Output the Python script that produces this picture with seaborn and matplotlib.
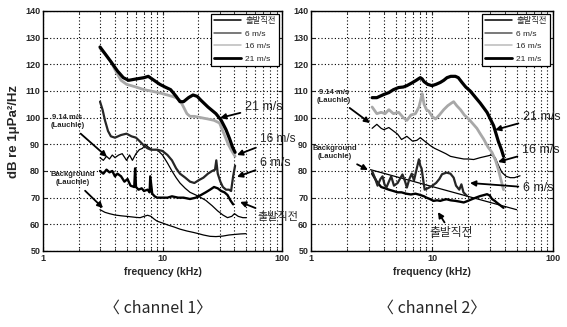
import matplotlib
matplotlib.use("Agg")
import matplotlib.pyplot as plt
from matplotlib.ticker import NullFormatter, FixedLocator
from matplotlib.lines import Line2D
import seaborn as sns
import pandas as pd

# ---------------- data: channel 1 ----------------
c1_f21 = [3.0, 3.3, 3.7, 4.2, 4.7, 5.2, 6.0, 7.0, 7.6, 8.5, 9.5, 10.5, 11.7, 13.0, 14.0, 15.0,
          16.5, 18.0, 19.5, 21.0, 24.0, 28.0, 31.0, 34.0, 36.5, 38.5, 40.5]
c1_db21 = [126.5, 124, 121, 117.5, 115, 114, 114.5, 115, 115.5, 114, 112.5, 111.5, 110.5, 108, 106, 106,
           107.5, 108.5, 108, 106.5, 104, 101.5, 99, 95.5, 92, 89, 87]

c1_f16 = [3.0, 3.3, 3.7, 4.0, 4.5, 5.0, 6.0, 7.0, 8.0, 9.0, 10.0, 11.0, 12.0, 13.0, 14.0, 15.0,
          16.0, 17.0, 18.5, 21.0, 24.0, 27.0, 30.0, 33.0, 35.5, 38.0, 40.5]
c1_db16 = [126, 124, 121, 118, 114, 112.5, 111.5, 110.5, 110, 109.5, 109, 108.5, 108, 107.5, 106.5, 104,
           101.5, 100.5, 100.5, 100, 99.5, 99, 98, 93.5, 90, 87.5, 85.5]

c1_f6 = [3.0, 3.15, 3.3, 3.5, 3.7, 4.0, 4.5, 5.0, 5.5, 6.0, 6.5, 7.0, 7.5, 8.0, 9.0, 10.0, 11.0,
         12.0, 13.0, 14.0, 15.5, 17.0, 18.5, 20.0, 22.0, 24.0, 26.0, 27.5, 28.2, 29.0, 30.5, 32.0,
         34.0, 36.0, 37.5, 39.0, 40.5]
c1_db6 = [106, 103, 99, 95, 93, 92.5, 93.5, 94, 93, 92.5, 91, 89.5, 88.5, 88, 88, 87.5, 86,
          84, 81, 79, 77.5, 76, 75.5, 76.5, 77.5, 79, 80, 80.5, 84, 79, 76, 74,
          73, 73, 72.5, 78, 82]

c1_f0 = [3.0, 3.2, 3.4, 3.6, 3.8, 4.0, 4.2, 4.5, 4.8, 5.1, 5.4, 5.8, 5.9, 6.0, 6.3, 6.7, 7.0, 7.5,
         7.8, 7.9, 8.2, 8.6, 9.0, 10.0, 11.0, 12.0, 13.5, 15.0, 17.0, 19.0, 21.0, 23.0, 25.0, 27.0,
         29.0, 31.0, 33.0, 35.0, 37.0, 39.0]
c1_db0 = [80, 79, 80.5, 79.5, 80, 78, 79, 78, 76, 77, 74.5, 74, 81, 74, 73, 73.5, 72.5, 73,
          72, 78, 71.5, 70.5, 70, 70, 70, 70.5, 70, 70, 69.5, 70, 71, 72, 73, 74,
          73.5, 72.5, 72, 71, 69, 67.5]

c1_f_lau = [3.0, 3.2, 3.4, 3.6, 3.8, 4.0, 4.3, 4.6, 5.0, 5.3, 5.6, 6.0, 6.4, 6.8, 7.2, 7.6, 8.2,
            9.0, 10.0, 11.0, 12.0, 13.0, 14.0, 15.5, 17.0, 19.0, 21.0, 23.0, 26.0, 29.0, 32.0,
            35.0, 38.0, 40.0, 43.0, 47.0, 50.0]
c1_db_lau = [85, 84, 85.5, 84.5, 86, 85, 86, 86.5, 84, 86, 84, 86.5, 88, 88.5, 90, 89, 88,
             88, 86, 83, 80, 77.5, 75.5, 73.5, 72, 71, 70, 69, 67, 65, 63.5,
             62.5, 63, 64, 63, 62.5, 62.5]

c1_f_bg = [3.0, 3.3, 3.6, 4.0, 4.5, 5.0, 5.5, 6.0, 6.5, 7.0, 7.5, 8.0, 8.5, 9.0, 10.0, 11.0, 12.5,
           14.0, 16.0, 18.0, 20.0, 22.0, 25.0, 28.0, 32.0, 36.0, 40.0, 45.0, 50.0]
c1_db_bg = [65.5, 64.5, 64, 63.5, 63.2, 63, 62.8, 62.6, 62.5, 63, 63.4, 63, 62, 61.2, 60.5, 59.8, 59,
            58.2, 57.5, 57, 56.5, 56, 55.5, 55.4, 55.6, 56, 56.2, 56.4, 56.5]

# ---------------- data: channel 2 ----------------
c2_f21 = [3.2, 3.5, 4.0, 4.4, 4.8, 5.3, 5.8, 6.2, 6.8, 7.4, 8.0, 8.3, 8.6, 9.2, 10.0, 10.8, 11.7,
          12.5, 13.3, 14.3, 15.6, 16.5, 17.7, 19.0, 20.7, 22.5, 25.0, 28.5, 32.3, 35.4, 37.5, 39.0]
c2_db21 = [107.5, 107.5, 108.7, 109.4, 110.5, 111.3, 111.5, 112, 113, 114, 115, 114.5, 113.5, 112.5, 112, 112.5, 113.2,
           114, 115, 115.5, 115.5, 115, 113.2, 111.5, 110, 108, 105.5, 102, 97, 91, 88, 85.5]

c2_f16 = [3.2, 3.5, 3.8, 4.1, 4.4, 4.8, 5.3, 5.8, 6.2, 6.7, 7.3, 7.8, 8.1, 8.3, 8.6, 9.0, 9.4, 10.0,
          10.7, 11.5, 12.5, 13.5, 14.5, 15.1, 16.0, 17.2, 18.5, 20.1, 21.5, 23.5, 25.0, 26.7, 29.0,
          31.3, 33.5, 35.4, 37.0, 39.0]
c2_db16 = [104, 101.5, 102, 101.5, 103, 101.5, 102, 100, 99, 101, 101.5, 104, 107, 109, 105, 103, 102.5, 100.5,
           99.5, 101, 103, 104.5, 105.5, 106, 104.5, 103, 101, 99.5, 98, 96, 94, 92, 89,
           87, 84, 80.5, 77, 73]

c2_f6 = [3.2, 3.4, 3.55, 3.75, 3.9, 4.05, 4.2, 4.4, 4.6, 4.85, 5.2, 5.5, 5.7, 6.0, 6.2, 6.5, 6.8,
         7.1, 7.4, 7.8, 8.0, 8.2, 8.5, 8.7, 9.2, 10.0, 10.8, 11.5, 12.1, 13.2, 14.2, 15.1, 15.8,
         16.8, 17.5, 18.2, 19.5]
c2_db6 = [80, 77, 74.5, 77, 78, 75, 73.8, 76, 78, 74.5, 75.5, 77.5, 78.7, 76, 73.8, 77, 79,
          76.5, 80, 84.4, 82, 81, 76, 73, 73.5, 74.4, 75.5, 77, 78.8, 79.4, 79, 77.5, 74.5,
          73, 75, 72, 70.6]

c2_f0 = [3.2, 3.5, 3.8, 4.1, 4.4, 4.8, 5.2, 5.6, 6.1, 6.7, 7.3, 8.0, 8.6, 9.0, 9.6, 10.3, 11.0,
         11.7, 12.5, 13.2, 14.3, 15.6, 17.0, 18.3, 19.8, 21.3, 23.0, 25.0, 27.0, 28.5, 30.0, 31.3,
         33.0, 34.4, 36.5, 39.0]
c2_db0 = [79, 76, 74, 73.5, 73, 72.5, 72, 72, 71.5, 71.2, 71.5, 71, 70.5, 70, 69.5, 68.8, 69,
          68.8, 69.2, 69.4, 69, 68.8, 68.5, 68.2, 68.8, 69.4, 70, 70.6, 71, 71.3, 70.8, 69.5,
          68.8, 68.1, 67.2, 66.2]

c2_f_lau = [3.2, 3.5, 3.8, 4.0, 4.4, 4.8, 5.2, 5.6, 6.2, 6.9, 7.5, 8.0, 8.8, 9.7, 10.5, 11.7, 13.0,
            14.2, 16.0, 18.3, 20.0, 22.1, 25.0, 28.5, 31.0, 33.3, 35.5, 37.8, 41.0, 44.3, 48.0, 53.4]
c2_db_lau = [96, 97.5, 96, 95.5, 96.3, 95, 93.8, 91.8, 93, 91.2, 91.5, 92.5, 91, 89.5, 88.5, 87.5, 86.5,
             85.5, 85, 84.5, 84.5, 84.3, 85, 85.6, 86, 85, 82, 79.5, 78, 77.5, 77.5, 78.2]

c2_f_bg = [3.1, 50.0]
c2_db_bg = [80.5, 65.5]

# ---------------- text ----------------
legend_labels = ["출발직전", "6 m/s", "16 m/s", "21 m/s"]
y_ticks = [50, 60, 70, 80, 90, 100, 110, 120, 130, 140]
x_ticks = [1, 10, 100]
x_ticklabels = ["1", "10", "100"]
x_label = "frequency (kHz)"
y_label = "dB re 1μPa²/Hz"
channel_titles = ["〈 channel 1〉", "〈 channel 2〉"]
lauchle_label = "9.14 m/s\n(Lauchle)"
background_label = "Background\n(Lauchle)"

sns.set_style("ticks")
plt.rcParams["font.family"] = ["Liberation Sans Narrow", "Liberation Sans", "Noto Sans CJK KR", "DejaVu Sans"]
plt.rcParams["axes.unicode_minus"] = False

fig = plt.figure(figsize=(5.67, 3.27), dpi=100)
W, H = 567.0, 327.0
ax1 = fig.add_axes([43 / W, 1 - 251 / H, 239 / W, 240 / H])
ax2 = fig.add_axes([311 / W, 1 - 251 / H, 242 / W, 240 / H])

styles = {
    "bg": dict(color="black", linewidth=0.9),
    "lau": dict(color="black", linewidth=0.9),
    "0": dict(color="black", linewidth=1.7),
    "6": dict(color="#262626", linewidth=1.6),
    "16": dict(color="#a8a8a8", linewidth=2.0),
    "21": dict(color="black", linewidth=2.3),
}


def draw(ax, f, db, key):
    df = pd.DataFrame({"f": f, "db": db})
    sns.lineplot(data=df, x="f", y="db", ax=ax, estimator=None, sort=False,
                 legend=False, **styles[key])


channels = [
    (ax1, [(c1_f_bg, c1_db_bg, "bg"), (c1_f_lau, c1_db_lau, "lau"), (c1_f0, c1_db0, "0"),
           (c1_f6, c1_db6, "6"), (c1_f16, c1_db16, "16"), (c1_f21, c1_db21, "21")]),
    (ax2, [(c2_f_bg, c2_db_bg, "bg"), (c2_f_lau, c2_db_lau, "lau"), (c2_f0, c2_db0, "0"),
           (c2_f6, c2_db6, "6"), (c2_f16, c2_db16, "16"), (c2_f21, c2_db21, "21")]),
]

leg_handles = [Line2D([], [], color="black", lw=1.1),
               Line2D([], [], color="#555555", lw=1.1),
               Line2D([], [], color="#bbbbbb", lw=1.1),
               Line2D([], [], color="black", lw=2.0)]

for ax, series in channels:
    for f, db, key in series:
        draw(ax, f, db, key)
    ax.set_xscale("log")
    ax.set_xlim(1, 100)
    ax.set_ylim(50, 140)
    ax.set_yticks(y_ticks)
    ax.set_yticklabels([str(v) for v in y_ticks], fontsize=6.5, fontweight="bold")
    ax.xaxis.set_major_locator(FixedLocator(x_ticks))
    ax.set_xticklabels(x_ticklabels, fontsize=6.5, fontweight="bold")
    ax.xaxis.set_minor_formatter(NullFormatter())
    ax.grid(True, which="major", axis="both", linestyle=(0, (1, 2)), color="black", linewidth=0.8)
    ax.grid(True, which="minor", axis="x", linestyle=(0, (1, 2)), color="black", linewidth=0.8)
    ax.tick_params(which="both", direction="in", top=True, right=True, pad=2)
    ax.tick_params(which="major", length=3, width=0.8)
    ax.tick_params(which="minor", length=2, width=0.6)
    for s in ax.spines.values():
        s.set_linewidth(1.0)
        s.set_color("black")
    ax.set_xlabel(x_label, fontsize=7.5, fontweight="bold", labelpad=3)
    ax.set_ylabel("")
    leg = ax.legend(leg_handles, legend_labels, loc="upper right", fontsize=6, handlelength=3.2,
                    frameon=True, fancybox=False, edgecolor="black", framealpha=1,
                    borderaxespad=0.35, labelspacing=0.55, borderpad=0.4, handletextpad=0.5)
    leg.get_frame().set_linewidth(0.9)

ax1.set_ylabel(y_label, fontsize=9.5, fontweight="bold", labelpad=4)

arrow = dict(arrowstyle="-|>", color="black", lw=1.3, mutation_scale=8, shrinkA=1, shrinkB=0)


def ann(ax, text, tip, txt, fs=9, ha="left", weight="normal"):
    ax.annotate(text, xy=tip, xytext=txt, textcoords="data", arrowprops=arrow,
                fontsize=fs, ha=ha, va="center", annotation_clip=False, fontweight=weight)


# channel 1 annotations
ann(ax1, "21 m/s", (30.3, 99.9), (49.0, 104.0))
ann(ax1, "16 m/s", (42.0, 86.0), (66.0, 92.0), fs=8.5)
ann(ax1, "6 m/s", (42.0, 77.8), (65.5, 83.0))
ann(ax1, "출발직전", (44.6, 68.4), (61.8, 62.8), fs=8)
ann(ax1, lauchle_label, (3.43, 85.3), (1.6, 98.4), fs=5.5, ha="center", weight="bold")
ann(ax1, background_label, (3.18, 66.1), (1.78, 77.0), fs=5.5, ha="center", weight="bold")

# channel 2 annotations
ann(ax2, "21 m/s", (33.2, 95.4), (56.5, 100.3))
ann(ax2, "16 m/s", (35.1, 83.4), (55.4, 87.9))
ann(ax2, "6 m/s", (20.6, 75.5), (56.5, 73.6))
ann(ax2, "출발직전", (11.2, 64.6), (14.4, 56.8), fs=8.5, ha="center")
ann(ax2, lauchle_label, (3.07, 98.0), (1.55, 108.0), fs=5.5, ha="center", weight="bold")
ann(ax2, background_label, (2.96, 80.4), (1.58, 86.8), fs=5.5, ha="center", weight="bold")

fig.text(158 / W, 1 - 308 / H, channel_titles[0], fontsize=11.5, ha="center", va="center",
         family=["Noto Sans CJK KR", "DejaVu Sans"])
fig.text(432 / W, 1 - 308 / H, channel_titles[1], fontsize=11.5, ha="center", va="center",
         family=["Noto Sans CJK KR", "DejaVu Sans"])

fig.savefig("out.png", dpi=100)
